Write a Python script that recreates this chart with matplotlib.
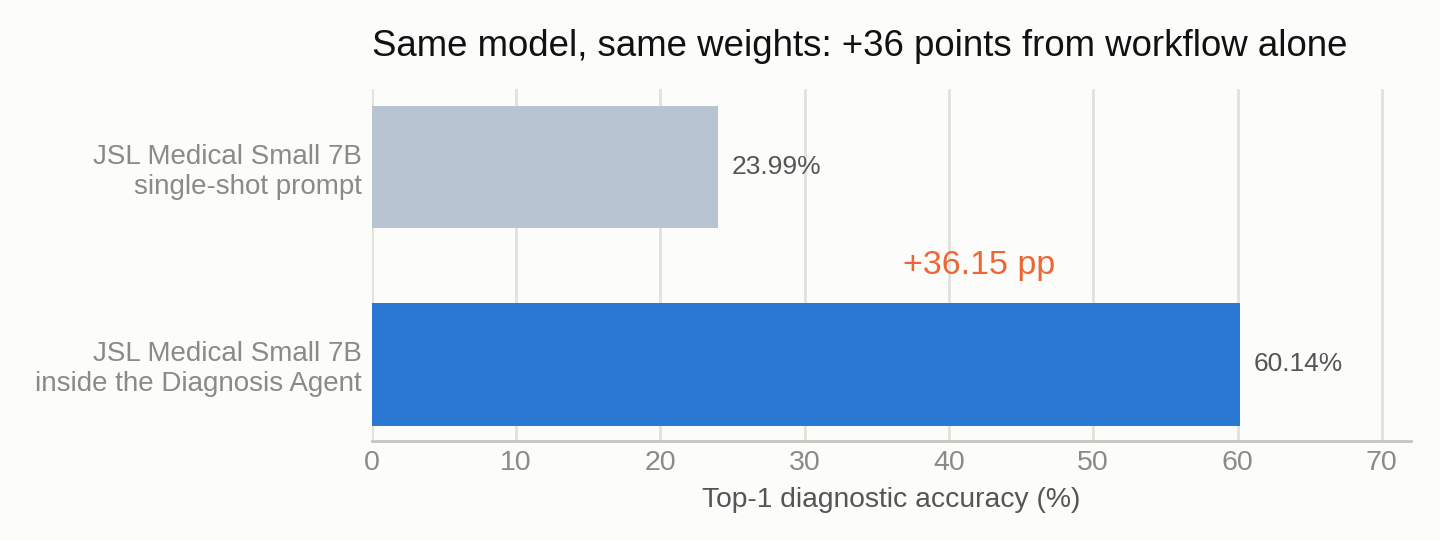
import matplotlib
matplotlib.use("Agg")
import matplotlib.pyplot as plt

plt.rcParams['font.family'] = ['Liberation Sans', 'DejaVu Sans']

categories = ["JSL Medical Small 7B\nsingle-shot prompt",
              "JSL Medical Small 7B\ninside the Diagnosis Agent"]
values = [23.99, 60.14]
value_labels = ["23.99%", "60.14%"]
colors = ["#B8C4D2", "#2A78D4"]
xticks = [0, 10, 20, 30, 40, 50, 60, 70]
title = "Same model, same weights: +36 points from workflow alone"
xlabel = "Top-1 diagnostic accuracy (%)"
delta_label = "+36.15 pp"

bg = "#FCFCFA"
fig = plt.figure(figsize=(14.4, 5.4), dpi=100, facecolor=bg)
ax = fig.add_axes([371.5/1440, 1 - 440.5/540, (1410.7-371.5)/1440, (440.5-89)/540])
ax.set_facecolor(bg)

ypos = [0, 1]
ax.barh(ypos, values, height=0.62, color=colors, zorder=3)
ax.set_xlim(0, 72)
ax.set_ylim(1.385, -0.395)

for y, v, lab in zip(ypos, values, value_labels):
    ax.annotate(lab, (v, y), xytext=(10, 0), textcoords="offset points",
                ha="left", va="center", fontsize=19, color="#555555")

mid = (values[0] + values[1]) / 2
ax.text(mid, 0.5, delta_label, ha="center", va="center", fontsize=24.5, color="#EE6633")

ax.set_yticks(ypos)
ax.set_yticklabels(categories, fontsize=20, color="#8A8A86", linespacing=1.18)
ax.set_xticks(xticks)
ax.set_xticklabels([str(t) for t in xticks], fontsize=20.5, color="#8A8A86")
ax.tick_params(axis="both", length=0)
ax.tick_params(axis="y", pad=7)
ax.tick_params(axis="x", pad=7)

ax.grid(axis="x", color="#E2E2DC", linewidth=2, zorder=0)
ax.grid(axis="y", visible=False)
for s in ["top", "right", "left"]:
    ax.spines[s].set_visible(False)
ax.spines["bottom"].set_color("#C6C6BC")
ax.spines["bottom"].set_linewidth(2)

ax.set_xlabel(xlabel, fontsize=20.3, color="#555555", labelpad=8)
ax.set_title(title, loc="left", fontsize=26.4, color="#111111", pad=24)

fig.savefig("out.png", dpi=100, facecolor=bg)
